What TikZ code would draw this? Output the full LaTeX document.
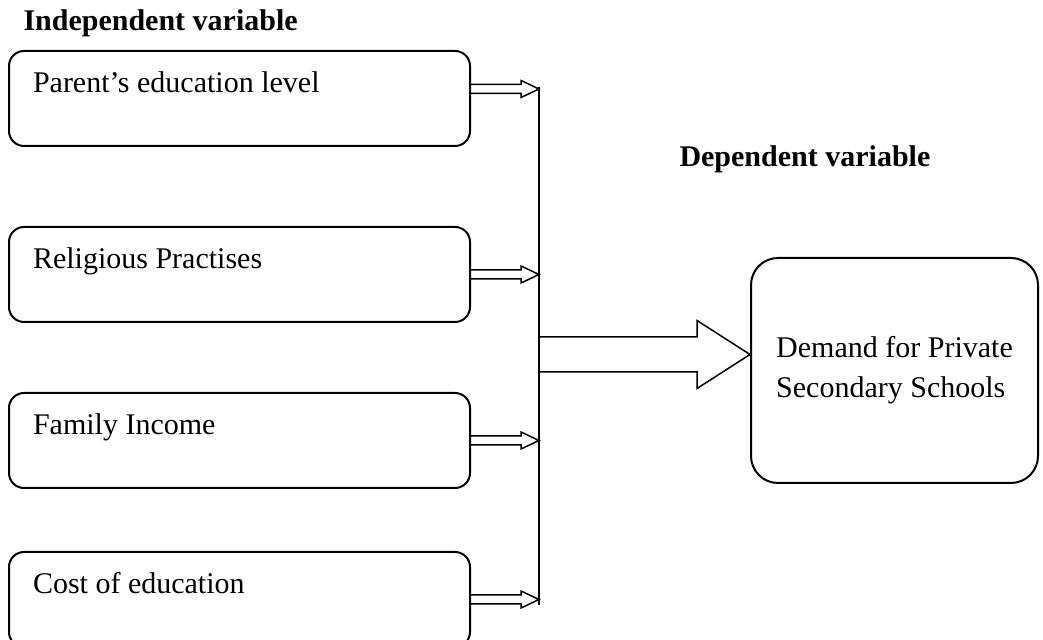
\documentclass[tikz,border=0pt]{standalone}
\usepackage{fontspec}
\setmainfont{Liberation Serif}
\usetikzlibrary{positioning, calc}
\tikzset{
font=\fontsize{12}{16}\selectfont,
varbox/.style={draw, thick, rounded corners=6pt, minimum width=184.4pt, minimum height=38pt,
  inner xsep=9.6pt, inner ysep=0pt, text width=165.2pt, align=flush left,
  text height=16.8pt, text depth=21.2pt}, % text sits near the top left of each box
depbox/.style={draw, thick, rounded corners=10.8pt, minimum width=114.8pt, minimum height=90pt, align=left},
heading/.style={font=\fontsize{12}{16}\selectfont\bfseries, inner sep=0pt},
arrowline/.style={semithick, line join=miter},
}
% hollow arrow from #1 to tip #2: half shaft #3, half head #4, head length #5
\newcommand{\hollowarrow}[5]{%
  \draw[arrowline] ($(#1)+(0,#3)$) -- ($(#2)+(-#5,#3)$) -- ($(#2)+(-#5,#4)$) -- (#2)
    -- ($(#2)+(-#5,-#4)$) -- ($(#2)+(-#5,-#3)$) -- ($(#1)+(0,-#3)$);}

\begin{document}
\begin{tikzpicture}
  \useasboundingbox (0,0) rectangle (417.2pt,-256pt);
  \node[heading, anchor=base west] (indep) at (9.2pt,-12.4pt) {Independent variable};
  \node[heading, anchor=base west] (dep) at (271.6pt,-66.8pt) {Dependent variable};

  \node[varbox, anchor=north west] (parent) at (3.2pt,-20pt) {Parent's education level};
  \node[varbox, below=31.6pt of parent] (relig) {Religious Practises};
  \node[varbox, below=27.6pt of relig] (income) {Family Income};
  \node[varbox, below=24.8pt of income] (cost) {Cost of education};
  \node[depbox, anchor=north west] (demand) at (300pt,-102.8pt) {Demand for Private\\Secondary Schools};

  % the collecting line
  \coordinate (busx) at (215.6pt,0);
  \coordinate (s1) at ([yshift=3.8pt]parent.east);
  \coordinate (tip1) at (s1 -| busx);
  \coordinate (tip2) at (relig.east -| busx);
  \coordinate (tip3) at (income.east -| busx);
  \coordinate (tip4) at (cost.east -| busx);
  \draw[arrowline] ([yshift=0.8pt]tip1) -- ([yshift=-2.4pt]tip4);

  \hollowarrow{s1}{tip1}{1.8pt}{3.4pt}{7.2pt}
  \hollowarrow{relig.east}{tip2}{1.8pt}{3.4pt}{7.2pt}
  \hollowarrow{income.east}{tip3}{1.8pt}{3.4pt}{7.2pt}
  \hollowarrow{cost.east}{tip4}{1.8pt}{3.4pt}{7.2pt}

  \coordinate (bigtip) at ([yshift=6.4pt]demand.west);
  \coordinate (bigtail) at (bigtip -| busx);
  \hollowarrow{bigtail}{bigtip}{7pt}{13.6pt}{21.2pt}
\end{tikzpicture}
\end{document}
